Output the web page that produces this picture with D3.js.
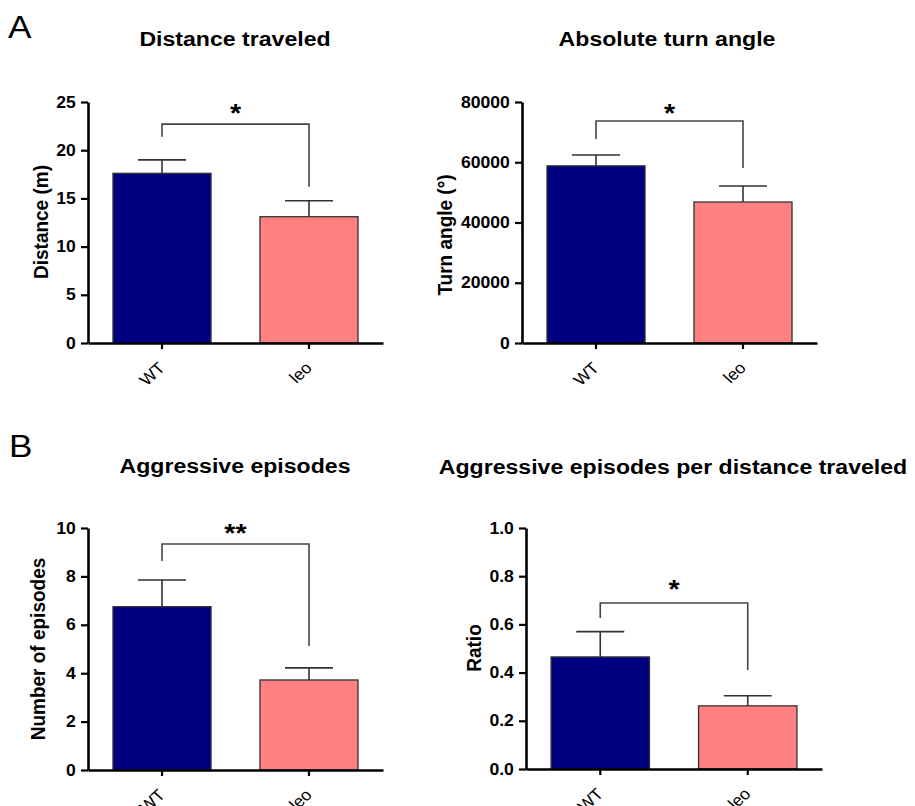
<!DOCTYPE html>
<html>
<head>
<meta charset="utf-8">
<script src="https://cdn.jsdelivr.net/npm/d3@7"></script>
<style>
  body { margin: 0; background: #fff; }
  svg { display: block; font-family: "Liberation Sans", Arial, Helvetica, sans-serif; }
</style>
</head>
<body>
<script>
// groups shared by every panel
const groups = ['WT', 'leo'];
const barColors = ['#000080', '#ff8080'];

// panel A - distance traveled (m)
const distanceMean = [17.6, 13.1];
const distanceSem = [1.4, 1.65];
const distanceTicks = [0, 5, 10, 15, 20, 25];
const distanceBracket = [22.7, 21.4, 16.2]; // top, left end, right end
const distanceStar = 24.5;

// panel A - absolute turn angle (deg)
const turnMean = [58800, 46800];
const turnSem = [3600, 5300];
const turnTicks = [0, 20000, 40000, 60000, 80000];
const turnBracket = [73700, 67700, 58100];
const turnStar = 78300;

// panel B - aggressive episodes
const episodesMean = [6.75, 3.72];
const episodesSem = [1.1, 0.5];
const episodesTicks = [0, 2, 4, 6, 8, 10];
const episodesBracket = [9.34, 8.64, 5.12];
const episodesStar = 10.05;

// panel B - episodes per distance
const ratioMean = [0.465, 0.262];
const ratioSem = [0.105, 0.042];
const ratioTicks = [0, 0.2, 0.4, 0.6, 0.8, 1.0];
const ratioBracket = [0.689, 0.627, 0.411];
const ratioStar = 0.772;

const SX = 1.1; // the source figure is a bit wider than tall
const width = 915, height = 806;

const svg = d3.select('body').append('svg')
  .attr('width', width)
  .attr('height', height);

const panels = [
  { title: 'Distance traveled', tx: 235, ty: 46, ylab: 'Distance (m)', lx: 48, ly: 222,
    x0: 88, x1: 383, top: 102, bottom: 343, max: 25, ticks: distanceTicks, fmt: d3.format('d'),
    mean: distanceMean, sem: distanceSem, bracket: distanceBracket, sig: '*', star: distanceStar },
  { title: 'Absolute turn angle', tx: 667, ty: 46, ylab: 'Turn angle (°)', lx: 452, ly: 235,
    x0: 522, x1: 817, top: 102, bottom: 343, max: 80000, ticks: turnTicks, fmt: d3.format('d'),
    mean: turnMean, sem: turnSem, bracket: turnBracket, sig: '*', star: turnStar },
  { title: 'Aggressive episodes', tx: 235, ty: 473, ylab: 'Number of episodes', lx: 45, ly: 649,
    x0: 88, x1: 383, top: 528, bottom: 770, max: 10, ticks: episodesTicks, fmt: d3.format('d'),
    mean: episodesMean, sem: episodesSem, bracket: episodesBracket, sig: '**', star: episodesStar },
  { title: 'Aggressive episodes per distance traveled', tx: 673, ty: 474, ylab: 'Ratio', lx: 481, ly: 648,
    x0: 526, x1: 822, top: 528, bottom: 769, max: 1, ticks: ratioTicks, fmt: d3.format('.1f'),
    mean: ratioMean, sem: ratioSem, bracket: ratioBracket, sig: '*', star: ratioStar }
];

// panel letters
svg.selectAll('text.letter')
  .data([['A', 8, 38], ['B', 9, 457]])
  .enter().append('text')
  .attr('class', 'letter')
  .attr('transform', d => `translate(${d[1]},${d[2]}) scale(${SX},1)`)
  .style('font-size', '32px')
  .text(d => d[0]);

panels.forEach(p => {
  const x = d3.scaleBand()
    .domain(groups)
    .range([p.x0, p.x1])
    .paddingInner(0.333)
    .paddingOuter(0.17);

  const y = d3.scaleLinear()
    .domain([0, p.max])
    .range([p.bottom, p.top]);

  const bars = groups.map((g, i) => ({ name: g, value: p.mean[i], sem: p.sem[i], color: barColors[i] }));

  // title
  svg.append('text')
    .attr('transform', `translate(${p.tx},${p.ty}) scale(${SX},1)`)
    .attr('text-anchor', 'middle')
    .style('font-size', '21px')
    .style('font-weight', 'bold')
    .text(p.title);

  // y label
  svg.append('text')
    .attr('transform', `translate(${p.lx},${p.ly}) scale(${SX},1) rotate(-90)`)
    .attr('text-anchor', 'middle')
    .style('font-size', '19px')
    .style('font-weight', 'bold')
    .text(p.ylab);

  // error bars (upper only)
  const err = svg.append('g')
    .attr('stroke', '#333')
    .attr('stroke-width', 1.6)
    .attr('fill', 'none');

  err.selectAll('path')
    .data(bars)
    .enter()
    .append('path')
    .attr('d', d => {
      const cx = x(d.name) + x.bandwidth() / 2;
      const yt = y(d.value + d.sem);
      return `M${cx},${y(d.value)}V${yt}M${cx - 24},${yt}H${cx + 24}`;
    });

  // bars
  svg.selectAll(null)
    .data(bars)
    .enter()
    .append('rect')
    .attr('x', d => x(d.name))
    .attr('y', d => y(d.value))
    .attr('width', x.bandwidth())
    .attr('height', d => y(0) - y(d.value))
    .attr('fill', d => d.color)
    .attr('stroke', '#333')
    .attr('stroke-width', 1.3);

  // significance bracket
  const bl = x(groups[0]) + x.bandwidth() / 2;
  const br = x(groups[1]) + x.bandwidth() / 2;
  svg.append('path')
    .attr('d', `M${bl},${y(p.bracket[1])}V${y(p.bracket[0])}H${br}V${y(p.bracket[2])}`)
    .attr('fill', 'none')
    .attr('stroke', '#444')
    .attr('stroke-width', 1.6);

  const starSize = 26;
  svg.append('text')
    .attr('transform', `translate(${(bl + br) / 2},${y(p.star) + 0.58 * starSize}) scale(${SX},1)`)
    .attr('text-anchor', 'middle')
    .style('font-size', starSize + 'px')
    .style('font-weight', 'bold')
    .text(p.sig);

  // axes
  const yAxis = svg.append('g')
    .attr('transform', `translate(${p.x0},0)`)
    .call(d3.axisLeft(y).tickValues(p.ticks).tickFormat(p.fmt).tickSize(7).tickSizeOuter(0).tickPadding(4));

  const xAxis = svg.append('g')
    .attr('transform', `translate(0,${p.bottom})`)
    .call(d3.axisBottom(x).tickSize(6).tickSizeOuter(0).tickFormat(''));

  [yAxis, xAxis].forEach(a => {
    a.select('.domain').attr('stroke', '#000').attr('stroke-width', 2.6);
    a.selectAll('.tick line').attr('stroke', '#000').attr('stroke-width', 2.2);
  });

  yAxis.selectAll('.tick text')
    .attr('fill', '#000')
    .attr('transform', `scale(${SX},1)`)
    .style('font-size', '16px')
    .style('font-weight', 'bold')
    .style('font-family', '"Liberation Sans", Arial, sans-serif');

  // rotated group labels
  svg.selectAll(null)
    .data(groups)
    .enter()
    .append('text')
    .attr('transform', d => `translate(${x(d) + x.bandwidth() / 2 + 4},${p.bottom + 26}) scale(${SX},1) rotate(-45)`)
    .attr('text-anchor', 'end')
    .style('font-size', '16px')
    .text(d => d);
});
</script>
</body>
</html>
